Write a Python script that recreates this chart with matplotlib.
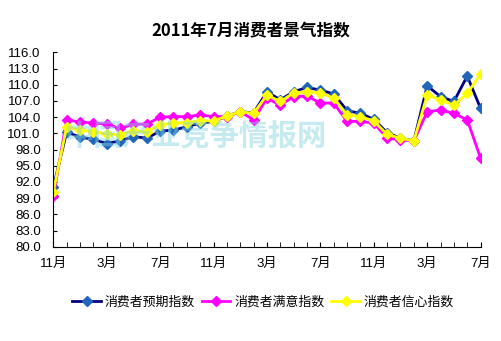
import matplotlib.pyplot as plt
import numpy as np

plt.rcParams['font.family'] = ['Liberation Sans', 'Noto Sans CJK SC', 'DejaVu Sans']

# 2008年11月 - 2011年7月, 每月一个点
n_meses = 33
rotulos_x = ['11月', '3月', '7月', '11月', '3月', '7月', '11月', '3月', '7月']
rotulos_y = np.arange(80.0, 116.1, 3.0)

# 消费者预期指数
expectativa = [91.0, 101.2, 100.3, 99.9, 99.1, 99.6, 100.4, 100.1, 101.4, 101.6,
               102.2, 102.9, 103.2, 104.2, 105.0, 104.8, 108.7, 107.2, 108.7, 109.5,
               109.0, 108.3, 105.2, 104.7, 103.6, 101.1, 100.1, 99.6, 109.8, 107.8,
               106.9, 111.6, 105.6]
# 消费者满意指数
satisfacao = [89.3, 103.5, 103.1, 102.9, 102.7, 101.9, 102.7, 102.7, 104.0, 104.1,
              104.1, 104.4, 104.1, 104.1, 105.0, 103.5, 107.5, 106.2, 107.8, 107.9,
              106.6, 106.6, 103.2, 103.2, 102.9, 100.1, 99.8, 99.6, 105.0, 105.3,
              104.7, 103.5, 96.4]
# 消费者信心指数
confianca = [90.2, 102.2, 101.6, 101.3, 100.9, 100.7, 101.5, 101.3, 102.6, 102.9,
             103.0, 103.3, 103.3, 104.2, 105.0, 104.7, 108.1, 106.9, 108.5, 108.7,
             108.5, 107.5, 104.4, 104.1, 103.3, 100.8, 100.1, 99.6, 108.1, 107.2,
             106.2, 108.4, 112.0]

x = np.arange(n_meses)

fig = plt.figure(figsize=(5.01, 3.41), dpi=100)
ax = fig.add_axes([0.1064, 0.2765, 0.8529, 0.5701])

ax.plot(x, expectativa, color='#000080', linewidth=2.0, marker='D', markersize=4.8,
        markerfacecolor='#2266BB', markeredgecolor='#2266BB', label='消费者预期指数')
ax.plot(x, satisfacao, color='#FF00FF', linewidth=2.0, marker='D', markersize=4.8,
        markerfacecolor='#FF00FF', markeredgecolor='#FF00FF', label='消费者满意指数')
ax.plot(x, confianca, color='#FFFF00', linewidth=2.0, marker='D', markersize=4.8,
        markerfacecolor='#FFFF00', markeredgecolor='#FFFF00', label='消费者信心指数')

ax.set_xlim(0, n_meses - 1)
ax.set_ylim(80, 116)

ax.set_yticks(rotulos_y)
ax.set_yticklabels(['%.1f' % v for v in rotulos_y], fontsize=9.5)
ax.set_xticks(x, minor=True)
ax.set_xticks(np.arange(0, n_meses, 4))
ax.set_xticklabels(rotulos_x, fontsize=9.5)

ax.tick_params(axis='y', direction='in', length=3, pad=9)
ax.tick_params(axis='x', which='both', direction='in', length=3.5, pad=8)

ax.spines['top'].set_visible(False)
ax.spines['right'].set_visible(False)

# marca d'agua
fig.text(0.39, 0.604, '中国产业竞争情报网', fontsize=21, color='#7FD3E2', alpha=0.45,
         weight='bold', ha='center', va='center', zorder=10,
         family=['Noto Sans CJK SC', 'DejaVu Sans'])

fig.suptitle('2011年7月消费者景气指数', x=0.5, y=0.935, fontsize=12, weight='bold',
             family=['Noto Sans CJK SC', 'DejaVu Sans'])

fig.legend(loc='center', bbox_to_anchor=(0.525, 0.114), ncol=3, frameon=False,
           handlelength=2.2, handletextpad=0.3, columnspacing=0.55,
           prop={'family': ['Noto Sans CJK SC', 'DejaVu Sans'], 'size': 9.3})

fig.savefig('out.png', dpi=100)
